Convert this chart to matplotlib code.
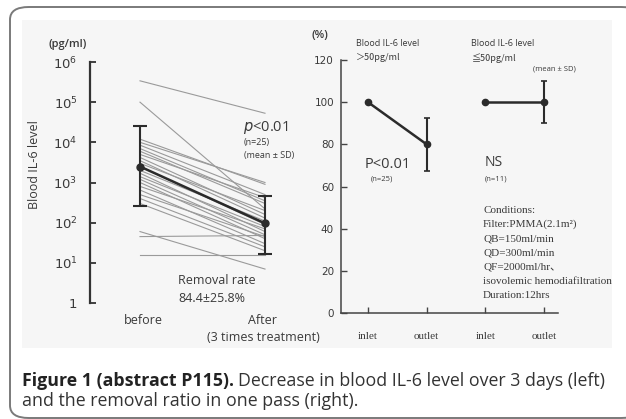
import matplotlib.pyplot as plt
from matplotlib.patches import FancyBboxPatch, Rectangle

W, H = 626, 419

# left panel: IL-6 before / after (pg/ml), one line per patient
before_vals = [340000, 100000, 12000, 10000, 8500, 7000, 6000, 5000, 4200, 3500,
               3000, 2500, 2000, 1700, 1400, 1200, 1000, 800, 650, 500,
               400, 300, 60, 45, 16]
after_vals = [53000, 220, 900, 1000, 500, 350, 300, 420, 160, 130,
              200, 90, 110, 60, 80, 50, 40, 70, 30, 45,
              25, 20, 7, 48, 16]
mean_vals = [2500, 96]
err_low = [260, 17]
err_high = [26000, 470]
left_ticks = [1, 10, 100, 1000, 10000, 100000, 1000000]
left_ticklabels = ["1", "$10^1$", "$10^2$", "$10^3$", "$10^4$", "$10^5$", "$10^6$"]

# right panel: removal ratio in one pass (%)
right_cats = ["inlet", "outlet", "inlet", "outlet"]
hi_mean = [100, 80]
hi_sd = [0, 12.5]
lo_mean = [100, 100]
lo_sd = [0, 10]
conditions = ["Conditions:", "Filter:PMMA(2.1m\u00b2)", "QB=150ml/min", "QD=300ml/min",
              "QF=2000ml/hr\u3001", "isovolemic hemodiafiltration", "Duration:12hrs"]

TXT = "#3a3a3a"
SANS = ["Open Sans", "DejaVu Sans"]
SERIF = ["Liberation Serif", "Noto Sans CJK JP", "DejaVu Serif"]
CJK = ["Noto Sans CJK JP", "DejaVu Sans"]


def fx(x):
    return x / W


def fy(y):
    return 1 - y / H


fig = plt.figure(figsize=(6.26, 4.19), dpi=100)
fig.patch.set_facecolor("white")

# outer rounded frame and light chart background
fig.patches.append(FancyBboxPatch((fx(10), fy(418)), fx(640) - fx(10), fy(7) - fy(418),
                                  boxstyle="round,pad=0,rounding_size=0.03",
                                  transform=fig.transFigure, facecolor="white",
                                  edgecolor="#7a7a7a", linewidth=1.4, zorder=-10))
fig.patches.append(Rectangle((fx(22), fy(348)), fx(612) - fx(22), fy(20) - fy(348),
                             transform=fig.transFigure, facecolor="#f6f6f6",
                             edgecolor="none", zorder=-9))

# ---- left chart ----
ax1 = fig.add_axes([fx(90), fy(303), fx(290) - fx(90), fy(62) - fy(303)])
ax1.set_facecolor("none")
ax1.set_yscale("log")
ax1.set_ylim(1, 1e6)
ax1.set_xlim(-0.4, 1.2)
for b, a in zip(before_vals, after_vals):
    ax1.plot([0, 1], [b, a], color="#9a9a9a", lw=0.8, zorder=2)
ax1.plot([0, 1], mean_vals, color="#2b2b2b", lw=1.8, zorder=3)
yerr = [[m - lo for m, lo in zip(mean_vals, err_low)],
        [hi - m for m, hi in zip(mean_vals, err_high)]]
ax1.errorbar([0, 1], mean_vals, yerr=yerr, fmt="o", color="#2b2b2b", ms=5,
             elinewidth=1.5, capsize=5, capthick=1.5, zorder=4)
ax1.set_yticks(left_ticks)
ax1.set_yticklabels(left_ticklabels)
ax1.minorticks_off()
ax1.tick_params(axis="y", direction="in", length=4, width=1.3, colors="#333333",
                labelsize=9.5, pad=9, labelcolor=TXT)
ax1.set_xticks([])
for s in ["top", "right", "bottom"]:
    ax1.spines[s].set_visible(False)
ax1.spines["left"].set_linewidth(1.6)
ax1.spines["left"].set_color("#333333")

fig.text(fx(68), fy(45), "(pg/ml)", ha="center", va="center", fontsize=8,
         color=TXT, family=SANS, fontweight="semibold")
fig.text(fx(35), fy(165), "Blood IL-6 level", ha="center", va="center", rotation=90,
         fontsize=9, color=TXT, family=SANS)
fig.text(fx(243), fy(128), "$p$<0.01", ha="left", va="center", fontsize=10.5,
         color=TXT, family=SANS)
fig.text(fx(244), fy(142), "(n=25)", ha="left", va="center", fontsize=6.5,
         color=TXT, family=SANS)
fig.text(fx(244), fy(155), "(mean \u00b1 SD)", ha="left", va="center", fontsize=6.5,
         color=TXT, family=SANS)
fig.text(fx(178), fy(280), "Removal rate", ha="left", va="center", fontsize=9,
         color=TXT, family=SANS)
fig.text(fx(178), fy(298), "84.4\u00b125.8%", ha="left", va="center", fontsize=9,
         color=TXT, family=SANS)
fig.text(fx(143), fy(320), "before", ha="center", va="center", fontsize=9,
         color=TXT, family=SANS)
fig.text(fx(263), fy(320), "After", ha="center", va="center", fontsize=9,
         color=TXT, family=SANS)
fig.text(fx(263), fy(337), "(3 times treatment)", ha="center", va="center", fontsize=9,
         color=TXT, family=SANS)

# ---- right chart ----
ax2 = fig.add_axes([fx(341), fy(313), fx(558) - fx(341), fy(60) - fy(313)])
ax2.set_facecolor("none")
ax2.set_ylim(0, 120)
ax2.set_xlim(-0.46, 3.24)
ax2.errorbar([0, 1], hi_mean, yerr=hi_sd, fmt="-o", color="#2b2b2b", ms=4.5, lw=1.8,
             elinewidth=1.5, capsize=2, capthick=1.2)
ax2.errorbar([2, 3], lo_mean, yerr=lo_sd, fmt="-o", color="#2b2b2b", ms=4.5, lw=1.8,
             elinewidth=1.5, capsize=2, capthick=1.2)
ax2.set_yticks(range(0, 121, 20))
ax2.set_xticks(range(len(right_cats)))
ax2.set_xticklabels(right_cats, family=SERIF)
ax2.tick_params(axis="y", direction="in", length=4, width=1.0, colors="#444444",
                labelsize=7.5, pad=5, labelcolor=TXT)
ax2.tick_params(axis="x", direction="in", length=4, width=1.0, colors="#444444",
                labelsize=8, pad=14, labelcolor=TXT)
for s in ["top", "right"]:
    ax2.spines[s].set_visible(False)
for s in ["left", "bottom"]:
    ax2.spines[s].set_linewidth(1.1)
    ax2.spines[s].set_color("#444444")

fig.text(fx(320), fy(35), "(%)", ha="center", va="center", fontsize=8,
         color=TXT, family=SANS, fontweight="semibold")
fig.text(fx(356), fy(43), "Blood IL-6 level", ha="left", va="center", fontsize=6.5,
         color=TXT, family=SANS)
fig.text(fx(356), fy(58), "\uff1e50pg/ml", ha="left", va="center", fontsize=6.5,
         color=TXT, family=CJK)
fig.text(fx(471), fy(43), "Blood IL-6 level", ha="left", va="center", fontsize=6.5,
         color=TXT, family=SANS)
fig.text(fx(471), fy(58), "\u226650pg/ml", ha="left", va="center", fontsize=6.5,
         color=TXT, family=CJK)
fig.text(fx(533), fy(69), "(mean \u00b1 SD)", ha="left", va="center", fontsize=5.5,
         color=TXT, family=SANS)
fig.text(fx(365), fy(164), "P<0.01", ha="left", va="center", fontsize=10.5,
         color=TXT, family=SANS)
fig.text(fx(371), fy(179), "(n=25)", ha="left", va="center", fontsize=5.5,
         color=TXT, family=SANS)
fig.text(fx(485), fy(163), "NS", ha="left", va="center", fontsize=10,
         color=TXT, family=SANS)
fig.text(fx(485), fy(179), "(n=11)", ha="left", va="center", fontsize=5.5,
         color=TXT, family=SANS)
for i, line in enumerate(conditions):
    fig.text(fx(483), fy(210 + i * 14.3), line, ha="left", va="center", fontsize=8,
             color=TXT, family=SERIF)

# ---- caption ----
cap_size = 12.8
bold = fig.text(fx(22), fy(381), "Figure 1 (abstract P115).", ha="left", va="center",
                fontsize=cap_size, fontweight="bold", color="#222222", family=SANS)
fig.canvas.draw()
bb = bold.get_window_extent()
fig.text(bb.x1 / fig.bbox.width + fx(4), fy(381),
         "Decrease in blood IL-6 level over 3 days (left)",
         ha="left", va="center", fontsize=cap_size, color="#333333", family=SANS)
fig.text(fx(22), fy(401), "and the removal ratio in one pass (right).", ha="left",
         va="center", fontsize=cap_size, color="#333333", family=SANS)

fig.savefig("out.png", dpi=100, facecolor="white")
